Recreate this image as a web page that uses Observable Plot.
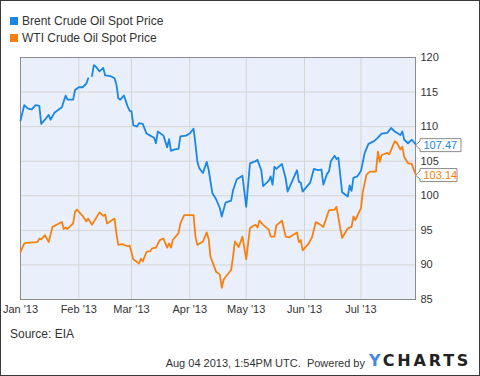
<!DOCTYPE html>
<html>
<head>
<meta charset="utf-8">
<script src="https://cdn.jsdelivr.net/npm/d3@7"></script>
<script src="https://cdn.jsdelivr.net/npm/@observablehq/plot@0.6"></script>
<style>
  html, body { margin: 0; padding: 0; background: #fff; }
  body { width: 480px; height: 376px; position: relative; overflow: hidden;
         font-family: "Liberation Sans", Arial, sans-serif; color: #333; }
  #legend { position: relative; height: 48px; }
  .lg { position: absolute; left: 0; height: 14px; line-height: 14px; font-size: 12px; white-space: nowrap; }
  .sw { position: absolute; width: 8px; height: 8px; }
  .ft { position: absolute; white-space: nowrap; }
  #border { position: absolute; left: 0; top: 0; width: 480px; height: 376px; box-sizing: border-box;
            border: 1px solid #3a3a3a; pointer-events: none; }
  #chart svg { display: block; overflow: visible; }
</style>
</head>
<body>
<div id="legend"></div>
<div id="chart"></div>
<div class="ft" style="left:10px; top:327px; font-size:12px; line-height:14px;">Source: EIA</div>
<div class="ft" style="right:115px; top:356px; font-size:11px; line-height:14px;">Aug 04 2013, 1:54PM UTC.&nbsp; Powered by</div>
<div class="ft" style="left:369px; top:353px; font-size:16px; line-height:16px; font-weight:bold; letter-spacing:2.8px; font-family:'DejaVu Sans', sans-serif; color:#222;"><span style="color:#4a86e8">Y</span>CHARTS</div>
<div id="border"></div>
<script>
// ---- data ----
const seriesNames = ["Brent Crude Oil Spot Price", "WTI Crude Oil Spot Price"];
const seriesColors = ["#1a86e6", "#f9800f"];

const brentDates = ["2013-01-01","2013-01-03","2013-01-05","2013-01-07","2013-01-09","2013-01-11","2013-01-12","2013-01-14","2013-01-16","2013-01-17","2013-01-19","2013-01-23","2013-01-25","2013-01-26","2013-01-29","2013-01-30",
"2013-02-01","2013-02-03","2013-02-05","2013-02-06","2013-02-07","2013-02-08","2013-02-09","2013-02-10","2013-02-12","2013-02-14","2013-02-15","2013-02-18","2013-02-20","2013-02-21","2013-02-22","2013-02-23","2013-02-25","2013-02-27","2013-02-28",
"2013-03-01","2013-03-02","2013-03-04","2013-03-05","2013-03-07","2013-03-09","2013-03-11","2013-03-13","2013-03-14","2013-03-15","2013-03-18","2013-03-20","2013-03-21","2013-03-22","2013-03-24","2013-03-26","2013-03-27","2013-03-30",
"2013-04-01","2013-04-03","2013-04-04","2013-04-05","2013-04-06","2013-04-08","2013-04-10","2013-04-11","2013-04-13","2013-04-15","2013-04-17","2013-04-18","2013-04-20","2013-04-23","2013-04-24","2013-04-26","2013-04-29",
"2013-05-01","2013-05-03","2013-05-06","2013-05-07","2013-05-09","2013-05-10","2013-05-13","2013-05-14","2013-05-15","2013-05-16","2013-05-17","2013-05-20","2013-05-22","2013-05-23","2013-05-28","2013-05-29","2013-05-30","2013-05-31",
"2013-06-04","2013-06-06","2013-06-08","2013-06-10","2013-06-11","2013-06-13","2013-06-14","2013-06-15","2013-06-17","2013-06-18","2013-06-19","2013-06-21","2013-06-24","2013-06-25","2013-06-26","2013-06-27","2013-06-29",
"2013-07-01","2013-07-03","2013-07-05","2013-07-08","2013-07-10","2013-07-12","2013-07-15","2013-07-17","2013-07-19","2013-07-22","2013-07-23","2013-07-24","2013-07-26","2013-07-28","2013-07-30"];
const brentValues = [110.9,113.1,112.6,112.5,113.1,113.0,110.4,111.0,111.7,111.0,112.0,112.8,114.5,113.9,113.9,115.3,
115.7,115.7,116.2,117.0,null,117.3,118.9,118.7,118.0,118.5,117.4,117.3,117.0,116.1,114.1,113.9,114.5,112.9,112.3,
112.2,110.2,110.0,110.5,110.4,109.0,108.7,108.4,107.6,109.3,108.7,107.0,108.2,106.5,106.7,106.8,108.6,108.7,
109.0,109.7,107.5,105.0,104.0,103.3,104.9,103.8,100.4,99.5,98.2,97.0,99.0,99.3,100.8,102.4,102.9,
98.4,104.7,105.0,105.2,103.7,101.4,102.2,102.8,101.6,104.2,103.9,104.6,102.5,100.6,103.7,102.0,101.9,100.6,
101.9,103.9,103.7,103.8,101.6,103.2,103.5,105.0,105.8,105.3,105.5,100.5,99.9,101.5,100.7,102.6,102.8,
103.6,106.2,107.5,107.9,108.4,109.0,109.1,109.8,109.3,108.8,109.3,108.1,107.6,108.1,107.47];

const wtiDates = ["2013-01-01","2013-01-03","2013-01-04","2013-01-10","2013-01-11","2013-01-12","2013-01-14","2013-01-16","2013-01-18","2013-01-23","2013-01-24","2013-01-25","2013-01-26","2013-01-29","2013-01-30","2013-01-31",
"2013-02-03","2013-02-05","2013-02-06","2013-02-08","2013-02-12","2013-02-14","2013-02-15","2013-02-16","2013-02-20","2013-02-21","2013-02-22","2013-02-24","2013-02-27","2013-02-28",
"2013-03-02","2013-03-05","2013-03-06","2013-03-07","2013-03-09","2013-03-11","2013-03-12","2013-03-14","2013-03-16","2013-03-18","2013-03-20","2013-03-21","2013-03-22","2013-03-23","2013-03-26","2013-03-27","2013-03-29","2013-03-31",
"2013-04-03","2013-04-04","2013-04-05","2013-04-08","2013-04-10","2013-04-11","2013-04-12","2013-04-15","2013-04-17","2013-04-18","2013-04-19","2013-04-23","2013-04-24","2013-04-25","2013-04-27","2013-04-29",
"2013-05-01","2013-05-03","2013-05-05","2013-05-06","2013-05-07","2013-05-08","2013-05-10","2013-05-13","2013-05-14","2013-05-16","2013-05-17","2013-05-20","2013-05-22","2013-05-24","2013-05-28","2013-05-29","2013-05-30","2013-05-31",
"2013-06-03","2013-06-05","2013-06-07","2013-06-09","2013-06-11","2013-06-14","2013-06-17","2013-06-18","2013-06-20","2013-06-21","2013-06-24","2013-06-26","2013-06-27","2013-06-28",
"2013-07-01","2013-07-02","2013-07-04","2013-07-06","2013-07-09","2013-07-10","2013-07-11","2013-07-12","2013-07-15","2013-07-16","2013-07-17","2013-07-19","2013-07-20","2013-07-22","2013-07-23","2013-07-24","2013-07-26","2013-07-28","2013-07-30"];
const wtiValues = [91.9,93.1,93.2,93.3,93.8,93.7,94.3,93.3,95.5,96.2,95.2,95.4,95.2,96.0,97.7,98.0,
97.1,96.3,96.7,95.8,97.6,97.1,97.3,96.0,96.7,94.5,92.9,93.0,92.7,92.8,
90.8,90.2,90.9,90.5,91.9,92.0,92.4,92.5,93.6,93.8,92.5,93.1,92.5,93.6,94.6,96.0,97.2,97.2,
97.2,94.1,92.9,93.4,94.7,93.8,91.2,89.0,88.6,86.7,87.9,89.3,91.2,93.4,92.6,94.1,
90.8,95.3,95.7,95.8,95.4,96.4,95.8,95.1,94.1,94.1,95.7,96.4,94.1,94.0,94.7,93.3,93.6,92.1,
93.0,94.0,96.2,95.9,95.5,97.9,98.0,98.4,95.3,93.9,95.3,95.5,97.0,96.5,
98.2,100.6,103.1,103.5,103.5,106.4,104.9,105.9,106.2,106.0,106.6,107.9,107.7,106.7,107.1,105.6,104.7,104.6,103.14];

const yTicks = [85, 90, 95, 100, 105, 110, 115, 120];
const monthTicks = ["2013-01-01","2013-02-01","2013-03-01","2013-04-01","2013-05-01","2013-06-01","2013-07-01"];
const xDomain = ["2013-01-01", "2013-07-30"];

// ---- build tables ----
const brent = brentDates.map((d, i) => ({date: new Date(d), value: brentValues[i]}));
const wti = wtiDates.map((d, i) => ({date: new Date(d), value: wtiValues[i]}));
const lastB = brent[brent.length - 1];
const lastW = wti[wti.length - 1];
const months = monthTicks.map(d => new Date(d));

// legend
const legend = document.getElementById("legend");
seriesNames.forEach((name, i) => {
  const sw = document.createElement("div");
  sw.className = "sw";
  sw.style.left = "10px"; sw.style.top = (17 + i * 16.5) + "px";
  sw.style.background = seriesColors[i];
  legend.appendChild(sw);
  const t = document.createElement("div");
  t.className = "lg";
  t.style.left = "22px"; t.style.top = (13.5 + i * 17) + "px";
  t.textContent = name;
  legend.appendChild(t);
});

// callout symbol (box with left-pointing arrow)
function callout(w) {
  return {
    draw(ctx) {
      ctx.moveTo(0, 0);
      ctx.lineTo(4.5, -4);
      ctx.lineTo(4.5, -6.5);
      ctx.lineTo(4.5 + w, -6.5);
      ctx.lineTo(4.5 + w, 6.5);
      ctx.lineTo(4.5, 6.5);
      ctx.lineTo(4.5, 4);
      ctx.closePath();
    }
  };
}

const chart = Plot.plot({
  width: 480,
  height: 272,
  marginLeft: 20,
  marginRight: 65,
  marginTop: 9,
  marginBottom: 21,
  style: {fontFamily: "'Liberation Sans', Arial, sans-serif", fontSize: "11px", color: "#333", background: "transparent", overflow: "visible"},
  x: {type: "utc", domain: xDomain.map(d => new Date(d))},
  y: {domain: [85, 120]},
  marks: [
    Plot.frame({fill: "#eaf0fb", stroke: null}),
    Plot.gridY(yTicks, {stroke: "#d4d4d4", strokeOpacity: 1}),
    Plot.gridX(months, {stroke: "#d4d4d4", strokeOpacity: 1}),
    Plot.frame({stroke: "#8c8c8c"}),
    Plot.axisY(yTicks, {anchor: "right", tickSize: 0, tickPadding: 5, fill: "#333", label: null}),
    Plot.axisX(months, {anchor: "bottom", tickSize: 0, tickPadding: 6, fill: "#333", label: null, tickFormat: d3.utcFormat("%b '%y")}),
    Plot.line(wti, {x: "date", y: "value", stroke: seriesColors[1], strokeWidth: 1.8}),
    Plot.line(brent, {x: "date", y: "value", stroke: seriesColors[0], strokeWidth: 1.8}),
    Plot.dot([lastB], {x: "date", y: "value", symbol: callout(41), r: 3, dy: 1, fill: "white", stroke: "#8c8c8c", strokeWidth: 1}),
    Plot.dot([lastW], {x: "date", y: "value", symbol: callout(37), r: 3, dy: 1, fill: "white", stroke: "#8c8c8c", strokeWidth: 1}),
    Plot.text([lastB], {x: "date", y: "value", text: d => d.value.toFixed(2), dx: 8, dy: 1, textAnchor: "start", fill: seriesColors[0], fontSize: 11}),
    Plot.text([lastW], {x: "date", y: "value", text: d => d.value.toFixed(2), dx: 8, dy: 1, textAnchor: "start", fill: seriesColors[1], fontSize: 11})
  ]
});
document.getElementById("chart").appendChild(chart);
</script>
</body>
</html>
